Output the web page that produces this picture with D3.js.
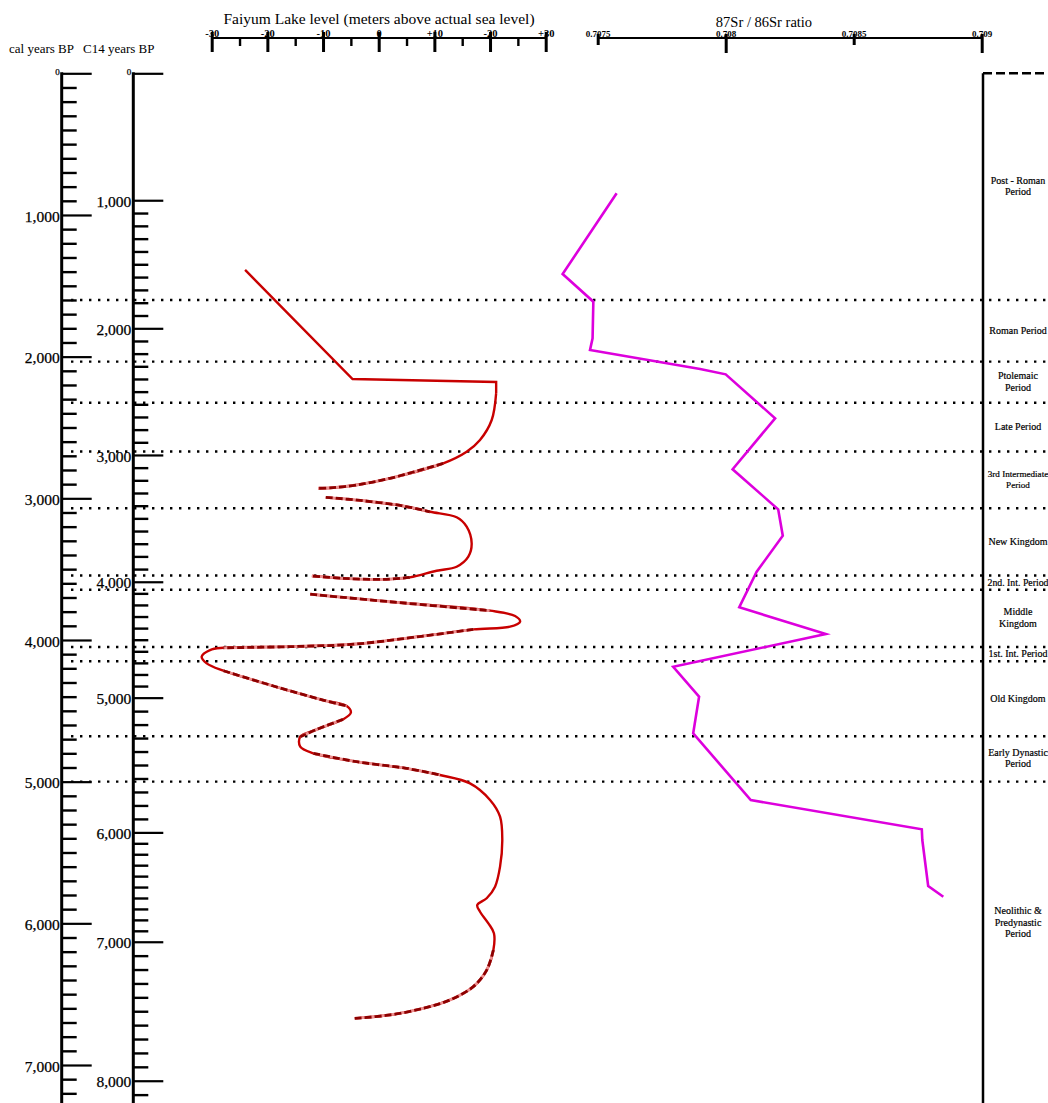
<!DOCTYPE html>
<html>
<head>
<meta charset="utf-8">
<script src="https://cdn.jsdelivr.net/npm/d3@7"></script>
<style>
  body { margin: 0; background: #fff; }
  svg { display: block; }
  text { font-family: "Liberation Serif", "Times New Roman", serif; fill: #000; }
</style>
</head>
<body>
<svg width="1048" height="1103"></svg>
<script>
// ---- data ----
// calibrated-age axis (cal years BP)
const calMajor = d3.range(0, 7001, 1000);
const calMinor = d3.range(0, 7301, 100).filter(d => d % 1000 !== 0);
// radiocarbon ages and the cal age they sit at on the figure
const c14Major = [0, 1000, 2000, 3000, 4000, 5000, 6000, 7000, 8000];
const c14AtCal = [0, 896, 1800, 2694, 3589, 4407, 5358, 6130, 7111];
const c14Minor = d3.range(1000, 8301, 100).filter(d => d % 1000 !== 0);

// lake level axis
const lakeTicks = [-30, -20, -10, 0, 10, 20, 30];
const lakeTickLabels = ["-30", "-20", "-10", "0", "+10", "-20", "+30"];
const lakeMinor = [-25, -15, -5, 5, 15, 25];

// strontium axis
const srTicks = [0.7075, 0.708, 0.7085, 0.709];
const srTickLabels = ["0.7075", "0.708", "0.7085", "0.709"];

// period boundaries (cal years BP) and names
const periodBounds = [0, 1600, 2035, 2325, 2670, 3070, 3545, 3645, 4050, 4150, 4680, 5000, 7000];
const periodNames = [
  ["Post - Roman", "Period"],
  ["Roman Period"],
  ["Ptolemaic", "Period"],
  ["Late Period"],
  ["3rd Intermediate", "Period"],
  ["New Kingdom"],
  ["2nd. Int. Period"],
  ["Middle", "Kingdom"],
  ["1st. Int. Period"],
  ["Old Kingdom"],
  ["Early Dynastic", "Period"],
  ["Neolithic &", "Predynastic", "Period"]
];

// Faiyum lake level [cal BP, m]
const lakeRecent = [[1388, -24.0], [2158, -4.7], [2172, 12.5], [2179, 21.1], [2257, 21.1]];
const lakePiece1 = [[2257, 21.1], [2447, 20.3], [2588, 18.2], [2671, 15.8], [2753, 11.6], [2859, 2.0],
  [2906, -4.0], [2925, -8.2], [2929, -10.9]];
const lakePiece2 = [[2993, -9.5], [3017, -2.8], [3054, 4.4], [3095, 9.2], [3134, 14.0], [3200, 15.8],
  [3318, 16.7], [3412, 16.1], [3483, 14.0], [3511, 10.4], [3558, 5.6], [3572, 0.8], [3565, -6.4], [3548, -12.0]];
const lakePiece3 = [[3677, -12.3], [3730, 2.0], [3793, 20.0], [3831, 24.5], [3871, 25.4], [3906, 23.6],
  [3925, 17.0], [3972, 8.0], [4028, -4.0], [4047, -15.9], [4055, -27.9], [4071, -30.3], [4118, -31.8],
  [4165, -30.9], [4217, -27.9], [4325, -18.9], [4424, -10.0], [4466, -5.75], [4513, -5.0], [4560, -6.4],
  [4631, -11.1], [4683, -14.1], [4753, -14.1], [4800, -11.75], [4859, -4.0], [4906, 5.0], [4953, 11.0],
  [5012, 16.4], [5129, 20.0], [5247, 21.8], [5412, 22.2], [5600, 21.8], [5741, 20.9], [5823, 19.4],
  [5871, 17.7], [5918, 18.2], [6000, 19.7], [6070, 20.7], [6188, 20.6], [6330, 19.4], [6447, 17.0],
  [6541, 12.8], [6600, 8.0], [6647, 2.0], [6671, -4.3]];
const lakePieces = [lakePiece1, lakePiece2, lakePiece3];
// inferred stretches: [piece, from point, to point]
const lakeInferred = [[0, 4, 8], [1, 0, 3], [1, 10, 13], [2, 0, 2], [2, 6, 10], [2, 14, 17],
  [2, 19, 21], [2, 23, 26], [2, 38, 44]];

// 87Sr/86Sr [cal BP, ratio]
const srCal = [847, 1417, 1612, 1871, 1953, 2087, 2125, 2435, 2795, 3078, 3264, 3518, 3769, 3958,
  4189, 4400, 4659, 5130, 5336, 5412, 5737, 5812];
const srRatio = [0.707574, 0.707363, 0.707483, 0.707480, 0.707470, 0.707900, 0.708000, 0.708193,
  0.708027, 0.708205, 0.708223, 0.708121, 0.708053, 0.708391, 0.707795, 0.707896, 0.707873,
  0.708098, 0.708766, 0.708768, 0.708791, 0.708850];

// ---- layout ----
const svg = d3.select('svg');
const width = +svg.attr('width');
const height = +svg.attr('height');

const yCal = d3.scaleLinear().domain([0, 7000]).range([73.3, 1065]);
const yC14 = d3.scaleLinear().domain(c14Major).range(c14AtCal.map(yCal));
const xLake = d3.scaleLinear().domain([-30, 30]).range([211.7, 545.7]);
const xSr = d3.scaleLinear().domain([0.7075, 0.709]).range([597.7, 981.7]);

const calX = 61.7, c14X = 133.3, boxX = 983;

// dotted period boundaries
svg.append('g').selectAll('line')
  .data(periodBounds.slice(1, -1))
  .enter().append('line')
    .attr('x1', 71).attr('x2', width)
    .attr('y1', d => yCal(d)).attr('y2', d => yCal(d))
    .attr('stroke', '#000')
    .attr('stroke-width', 2.4)
    .attr('stroke-dasharray', '2.4,6.6');

// vertical age axes
const fmt = d3.format(',');
const drawAgeAxis = (scale, x, major, minor) => {
  const g = svg.append('g').attr('transform', `translate(${x},0)`);
  g.append('g')
    .call(d3.axisLeft(scale).tickValues(minor).tickSizeInner(-15).tickSizeOuter(0).tickFormat(''))
    .call(a => a.select('.domain').remove())
    .selectAll('line').attr('stroke-width', 2.4);
  const mj = g.append('g')
    .call(d3.axisLeft(scale).tickValues(major).tickSizeInner(-30).tickSizeOuter(0).tickPadding(2).tickFormat(fmt))
    .call(a => a.select('.domain').remove());
  mj.selectAll('line').attr('stroke-width', 2.2);
  mj.selectAll('text')
    .attr('font-family', '"Liberation Serif", serif')
    .attr('font-size', d => d === 0 ? 9 : 15.5)
    .attr('dy', d => d === 0 ? '0.1em' : '0.4em')
    .attr('fill', '#000')
    .attr('stroke', '#000').attr('stroke-width', 0.25);
  g.append('line')
    .attr('x1', 0).attr('x2', 0)
    .attr('y1', scale(0) - 1).attr('y2', height)
    .attr('stroke', '#000').attr('stroke-width', 3);
};
drawAgeAxis(yCal, calX, calMajor, calMinor);
drawAgeAxis(yC14, c14X, c14Major, c14Minor);

svg.append('text').attr('x', 9).attr('y', 53).attr('font-size', 13).text('cal years BP');
svg.append('text').attr('x', 83).attr('y', 53).attr('font-size', 13).text('C14 years BP');

// lake level axis (top)
const lakeAxisY = 38;
svg.append('line')
  .attr('x1', xLake(-30)).attr('x2', xLake(30))
  .attr('y1', lakeAxisY).attr('y2', lakeAxisY)
  .attr('stroke', '#000').attr('stroke-width', 2);
svg.append('g').attr('transform', `translate(0,${lakeAxisY - 6})`)
  .call(d3.axisBottom(xLake).tickValues(lakeTicks).tickSize(20).tickFormat(''))
  .call(a => a.select('.domain').remove())
  .selectAll('line').attr('stroke-width', 3);
svg.append('g').attr('transform', `translate(0,${lakeAxisY})`)
  .call(d3.axisBottom(xLake).tickValues(lakeMinor).tickSize(8).tickFormat(''))
  .call(a => a.select('.domain').remove())
  .selectAll('line').attr('stroke-width', 2.4);
svg.append('g').attr('transform', `translate(0,${lakeAxisY})`)
  .call(d3.axisTop(xLake).tickValues(lakeTicks).tickSize(0).tickPadding(1)
    .tickFormat((d, i) => lakeTickLabels[i]))
  .call(a => a.select('.domain').remove())
  .selectAll('text')
    .attr('font-family', '"Liberation Serif", serif')
    .attr('font-size', 10.5).attr('font-weight', 'bold').attr('fill', '#000');
svg.append('text')
  .attr('x', 379).attr('y', 24)
  .attr('text-anchor', 'middle').attr('font-size', 15.5)
  .text('Faiyum Lake level (meters above actual sea level)');

// strontium axis (top)
const srAxisY = 38;
svg.append('line')
  .attr('x1', xSr.range()[0]).attr('x2', xSr.range()[1])
  .attr('y1', srAxisY).attr('y2', srAxisY)
  .attr('stroke', '#000').attr('stroke-width', 2);
svg.append('g').attr('transform', `translate(0,${srAxisY - 4})`)
  .call(d3.axisBottom(xSr).tickValues(srTicks).tickSizeOuter(0)
    .tickSizeInner(0).tickFormat(''))
  .call(a => a.select('.domain').remove())
  .selectAll('line')
    .attr('y2', (d, i) => i % 2 ? 19 : 11)
    .attr('stroke-width', 3);
svg.append('g').attr('transform', `translate(0,${srAxisY})`)
  .call(d3.axisTop(xSr).tickValues(srTicks).tickSize(0).tickPadding(1)
    .tickFormat((d, i) => srTickLabels[i]))
  .call(a => a.select('.domain').remove())
  .selectAll('text')
    .attr('font-family', '"Liberation Serif", serif')
    .attr('font-size', 9).attr('font-weight', 'bold').attr('fill', '#000');
svg.append('text')
  .attr('x', 764).attr('y', 27)
  .attr('text-anchor', 'middle').attr('font-size', 14.5)
  .text('87Sr / 86Sr ratio');

// period box
svg.append('line')
  .attr('x1', boxX).attr('x2', boxX).attr('y1', yCal(0)).attr('y2', height)
  .attr('stroke', '#000').attr('stroke-width', 2.5);
svg.append('line')
  .attr('x1', boxX).attr('x2', width).attr('y1', yCal(0)).attr('y2', yCal(0))
  .attr('stroke', '#000').attr('stroke-width', 2.5).attr('stroke-dasharray', '9,4');

const labelX = (boxX + width) / 2 + 2.5;
const maxLabelW = width - boxX - 4;
const periodG = svg.append('g').selectAll('text')
  .data(periodNames)
  .enter().append('text')
    .attr('text-anchor', 'middle')
    .attr('font-size', 10)
    .attr('stroke', '#000').attr('stroke-width', 0.2)
    .attr('x', labelX)
    .attr('y', (d, i) => yCal((periodBounds[i] + periodBounds[i + 1]) / 2) - (d.length - 1) * 6 + 3);
periodG.selectAll('tspan')
  .data(d => d)
  .enter().append('tspan')
    .attr('x', labelX)
    .attr('dy', (d, i) => i ? 11.5 : 0)
    .text(d => d);
// squeeze the long names so they stay inside the right edge
periodG.each(function () {
  const w = this.getBBox().width;
  if (w > maxLabelW) d3.select(this).attr('font-size', 10 * maxLabelW / w);
});

// lake level curve
const lakeLine = d3.line()
  .x(d => xLake(d[1]))
  .y(d => yCal(d[0]));
const smooth = lakeLine.curve(d3.curveCatmullRom.alpha(0.5));
const red = '#c80000';

svg.append('path')
  .attr('d', d3.line().x(d => xLake(d[1])).y(d => yCal(d[0]))(lakeRecent))
  .attr('fill', 'none').attr('stroke', red).attr('stroke-width', 2.4);
lakePieces.forEach(p => {
  svg.append('path')
    .attr('d', smooth(p))
    .attr('fill', 'none').attr('stroke', red).attr('stroke-width', 2.4);
});
lakeInferred.forEach(([p, a, b]) => {
  const d = smooth(lakePieces[p].slice(a, b + 1));
  svg.append('path')
    .attr('d', d)
    .attr('fill', 'none').attr('stroke', '#ee9090').attr('stroke-width', 2.8);
  svg.append('path')
    .attr('d', d)
    .attr('fill', 'none').attr('stroke', '#8c0000')
    .attr('stroke-width', 2.8).attr('stroke-dasharray', '7,3');
});

// strontium curve
const srData = srCal.map((c, i) => [c, srRatio[i]]);
svg.append('path')
  .attr('d', d3.line().x(d => xSr(d[1])).y(d => yCal(d[0]))(srData))
  .attr('fill', 'none').attr('stroke', '#dd00dd').attr('stroke-width', 2.6)
  .attr('stroke-linejoin', 'miter');
</script>
</body>
</html>
